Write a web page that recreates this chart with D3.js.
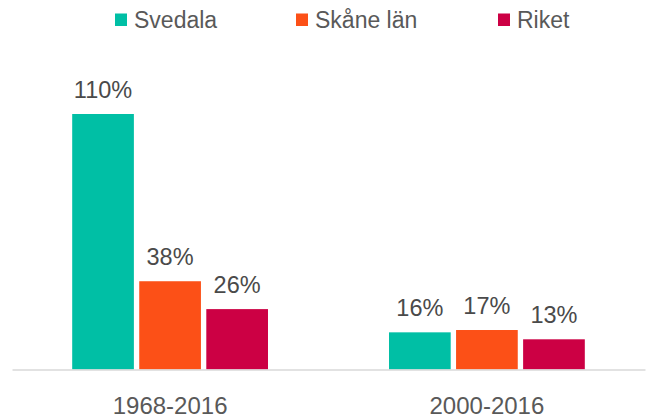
<!DOCTYPE html>
<html>
<head>
<meta charset="utf-8">
<script src="https://cdn.jsdelivr.net/npm/d3@7"></script>
<style>
  html, body { margin: 0; padding: 0; background: #fff; }
  svg { display: block; font-family: "Liberation Sans", Arial, sans-serif; }
</style>
</head>
<body>
<svg id="chart" width="646" height="418"></svg>
<script>
const categories = ["1968-2016", "2000-2016"];
const seriesNames = ["Svedala", "Skåne län", "Riket"];
const svedala = [110, 16];
const skane = [38, 17];
const riket = [26, 13];
const colors = ["#00BFA5", "#FC5017", "#CC0044"];

const seriesValues = [svedala, skane, riket];
const data = categories.map((c, i) => ({
  category: c,
  values: seriesNames.map((s, j) => ({ series: s, value: seriesValues[j][i], color: colors[j] }))
}));

const svg = d3.select("#chart");
const textColor = "#595959";
const labelColor = "#4a4a4a";
const baseline = 369.5;

const x0 = d3.scaleBand().domain(categories).range([12, 645])
  .paddingInner(0.382).paddingOuter(0.19);
const x1 = d3.scaleBand().domain(seriesNames).range([0, x0.bandwidth()])
  .paddingInner(0.08).paddingOuter(0);
const y = d3.scaleLinear().domain([0, 110]).range([baseline, 114]);

// bars
const groups = svg.append("g").selectAll("g").data(data).join("g")
  .attr("transform", d => `translate(${x0(d.category)},0)`);

groups.selectAll("rect").data(d => d.values).join("rect")
  .attr("x", d => x1(d.series))
  .attr("y", d => y(d.value))
  .attr("width", x1.bandwidth())
  .attr("height", d => y(0) - y(d.value))
  .attr("fill", d => d.color);

groups.selectAll("text").data(d => d.values).join("text")
  .attr("x", d => x1(d.series) + x1.bandwidth() / 2)
  .attr("y", d => y(d.value) - 16)
  .attr("text-anchor", "middle")
  .attr("font-size", 23.5)
  .attr("fill", labelColor)
  .text(d => d.value + "%");

// x axis
const xAxis = svg.append("g")
  .attr("transform", `translate(0,${baseline})`)
  .call(d3.axisBottom(x0).tickSize(0).tickSizeOuter(0).tickPadding(27));
xAxis.select(".domain").attr("stroke", "#d9d9d9").attr("stroke-width", 1.5);
xAxis.selectAll("text")
  .attr("font-size", 24)
  .attr("fill", textColor)
  .attr("font-family", "Liberation Sans, Arial, sans-serif");

// legend
const legendX = [115, 296, 498];
const legend = svg.append("g").selectAll("g").data(seriesNames).join("g")
  .attr("transform", (d, i) => `translate(${legendX[i]},0)`);
legend.append("rect")
  .attr("x", 0).attr("y", 13.5)
  .attr("width", 12).attr("height", 12.5)
  .attr("fill", (d, i) => colors[i]);
legend.append("text")
  .attr("x", 19).attr("y", 28)
  .attr("font-size", 23)
  .attr("fill", textColor)
  .text(d => d);
</script>
</body>
</html>
